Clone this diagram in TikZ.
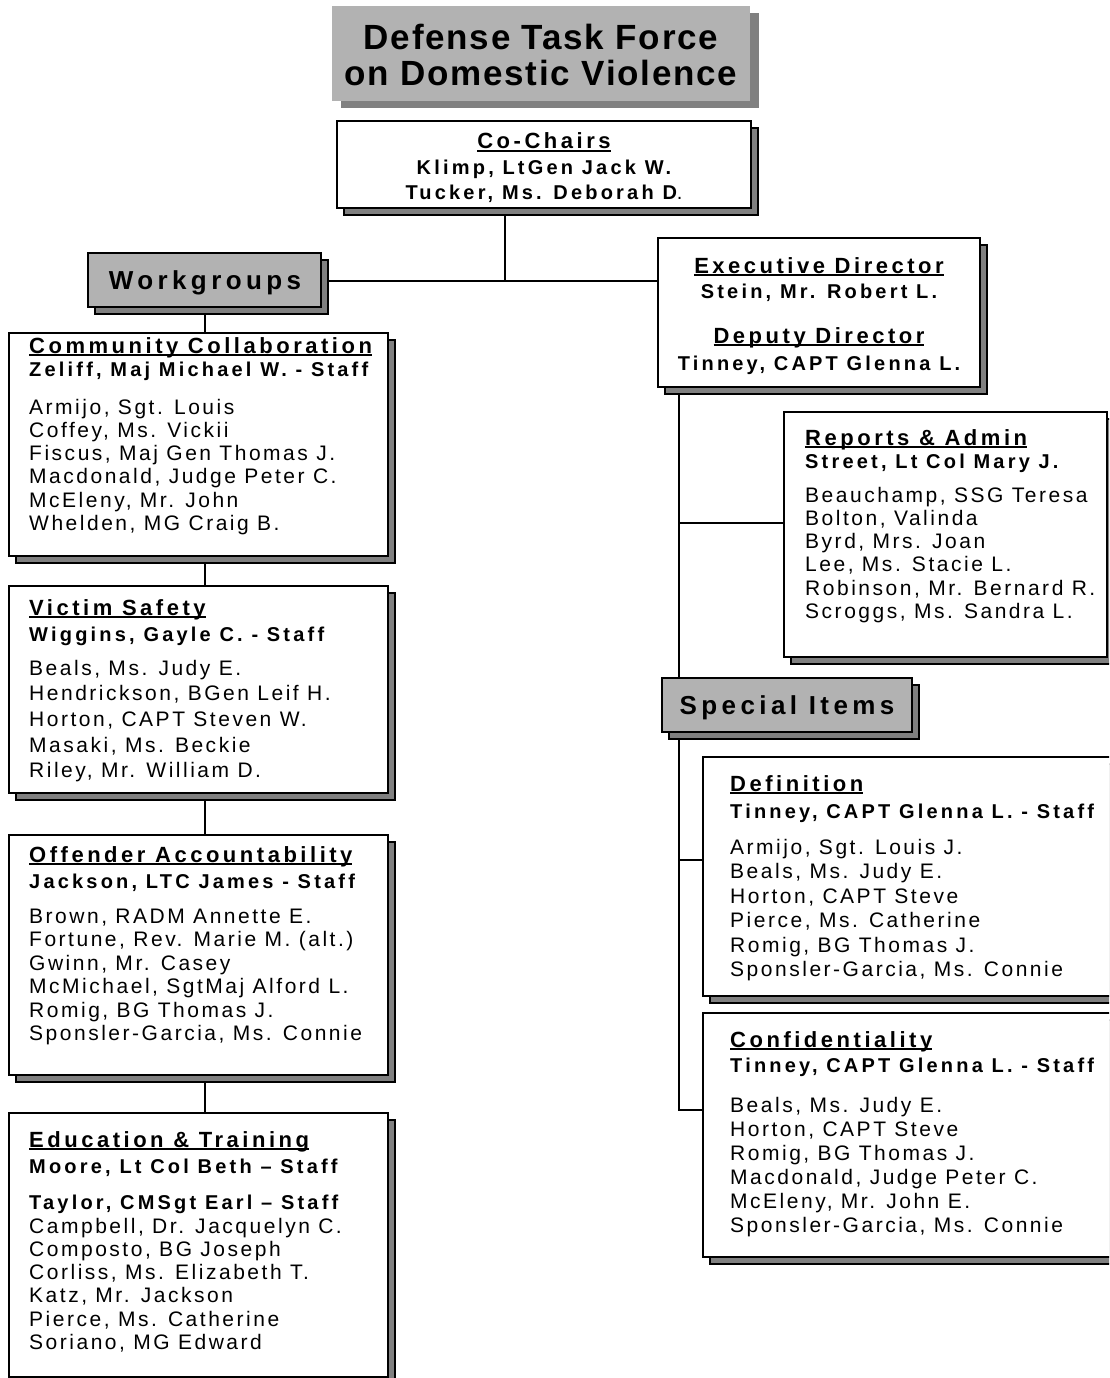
\documentclass[tikz,border=0pt]{standalone}
\usepackage{fontspec}
\setmainfont{Liberation Sans}
\newfontfamily\fbody[LetterSpace=12]{Liberation Sans}
\newfontfamily\fstaff[LetterSpace=16]{Liberation Sans}
\newfontfamily\fhead[LetterSpace=16]{Liberation Sans}
\newfontfamily\flab[LetterSpace=17]{Liberation Sans}
\newfontfamily\ftitle[LetterSpace=5]{Liberation Sans}
\usetikzlibrary{shadows}
\pgfdeclarelayer{bgfill}
\pgfdeclarelayer{background}
\pgfsetlayers{bgfill,background,main}
\newcommand\ulin[1]{\setbox0\hbox{#1}\rlap{\rule[-3pt]{\wd0}{1.6pt}}\box0}
\tikzset{
 conn/.style={line width=2pt},
 wbox/.style={draw=black, line width=2pt, fill=white, inner sep=0pt, outer sep=0pt, anchor=north west,
   drop shadow={shadow xshift=7pt, shadow yshift=-7pt, fill=black!50, draw=black, line width=2pt, opacity=1}},
 gbox/.style={wbox, fill=black!30},
 tbox/.style={fill=black!30, inner sep=0pt, outer sep=0pt, anchor=north west,
   drop shadow={shadow xshift=9pt, shadow yshift=-7pt, fill=black!50, opacity=1}},
 bodyt/.style={font=\fbody\fontsize{21}{24}\selectfont, inner sep=0pt, anchor=base west},
 stafft/.style={font=\fstaff\bfseries\fontsize{20}{24}\selectfont, inner sep=0pt, anchor=base west},
 headt/.style={font=\fhead\bfseries\fontsize{22}{26}\selectfont, inner sep=0pt, anchor=base west},
 titlet/.style={font=\ftitle\bfseries\fontsize{35}{36}\selectfont, inner sep=0pt, anchor=base},
 labt/.style={font=\flab\bfseries\fontsize{26}{30}\selectfont, inner sep=0pt, anchor=base},
}
\newcommand\bx[6]{\node[#6, minimum width={#4pt-#2pt}, minimum height={#5pt-#3pt}] (#1) at (#2,#3) {};}
\newcommand\lst[5]{\foreach \t [count=\i from 0] in {#5} {\node[bodyt] (#1\i) at (#2,{#3+\i*#4}) {\t};}}
\begin{document}
\begin{tikzpicture}[x=1pt,y=-1pt]
\useasboundingbox (0,0) rectangle (1109,1378);
\clip (0,0) rectangle (1109,1378);
\begin{pgfonlayer}{bgfill}
\fill[white] (0,0) rectangle (1109,1378);
\end{pgfonlayer}

% title
\bx{ttl}{332}{6}{750}{101}{tbox}
\node[titlet] (t1) at (541,50) {Defense Task Force};
\node[titlet] (t2) at (541,86) {on Domestic Violence};

% co-chairs
\bx{cc}{337}{121}{751}{208}{wbox}
\node[headt, anchor=base] (cch) at (544,149) {\ulin{Co-Chairs}};
\node[stafft, anchor=base] (cc1) at (544,174) {Klimp, LtGen Jack W.};
\node[stafft, anchor=base] (cc2) at (544,199) {Tucker, Ms. Deborah D{\mdseries .}};

% workgroups
\bx{wg}{88}{253}{321}{307}{gbox}
\node[labt] (wgt) at (205,289) {Workgroups};

% executive
\bx{ex}{658}{238}{980}{387}{wbox}
\node[headt, anchor=base] (ex1) at (819,273) {\ulin{Executive Director}};
\node[stafft, anchor=base] (ex2) at (819,298) {Stein, Mr. Robert L.};
\node[headt, anchor=base] (ex3) at (819,343) {\ulin{Deputy Director}};
\node[stafft, anchor=base] (ex4) at (819,370) {Tinney, CAPT Glenna L.};

% community
\bx{cm}{9}{333}{388}{556}{wbox}
\node[headt] (cmh) at (29,353) {\ulin{Community Collaboration}};
\node[stafft] (cms) at (29,376) {Zeliff, Maj Michael W. - Staff};
\lst{cm}{29}{414}{23.3}{{Armijo, Sgt. Louis},{Coffey, Ms. Vickii},{Fiscus, Maj Gen Thomas J.},{Macdonald, Judge Peter C.},{McEleny, Mr. John},{Whelden, MG Craig B.}}

% victim
\bx{vs}{9}{586}{388}{793}{wbox}
\node[headt] (vsh) at (29,615) {\ulin{Victim Safety}};
\node[stafft] (vss) at (29,641) {Wiggins, Gayle C. - Staff};
\lst{vs}{29}{675}{25.7}{{Beals, Ms. Judy E.},{Hendrickson, BGen Leif H.},{Horton, CAPT Steven W.},{Masaki, Ms. Beckie},{Riley, Mr. William D.}}

% offender
\bx{oa}{9}{835}{388}{1075}{wbox}
\node[headt] (oah) at (29,862) {\ulin{Offender Accountability}};
\node[stafft] (oas) at (29,888) {Jackson, LTC James - Staff};
\lst{oa}{29}{923}{23.5}{{Brown, RADM Annette E.},{Fortune, Rev. Marie M. (alt.)},{Gwinn, Mr. Casey},{McMichael, SgtMaj Alford L.},{Romig, BG Thomas J.},{Sponsler-Garcia, Ms. Connie}}

% education
\bx{et}{9}{1113}{388}{1377}{wbox}
\node[headt] (eth) at (29,1147) {\ulin{Education \& Training}};
\node[stafft] (ets) at (29,1173) {Moore, Lt Col Beth – Staff};
\node[stafft] (ett) at (29,1209) {Taylor, CMSgt Earl – Staff};
\lst{et}{29}{1233}{23.3}{{Campbell, Dr. Jacquelyn C.},{Composto, BG Joseph},{Corliss, Ms. Elizabeth T.},{Katz, Mr. Jackson},{Pierce, Ms. Catherine},{Soriano, MG Edward}}

% reports
\bx{ra}{784}{412}{1107}{657}{wbox}
\node[headt] (rah) at (805,445) {\ulin{Reports \& Admin}};
\node[stafft] (ras) at (805,468) {Street, Lt Col Mary J.};
\lst{ra}{805}{502}{23.3}{{Beauchamp, SSG Teresa},{Bolton, Valinda},{Byrd, Mrs. Joan},{Lee, Ms. Stacie L.},{Robinson, Mr. Bernard R.},{Scroggs, Ms. Sandra L.}}

% special items
\bx{si}{662}{678}{912}{732}{gbox}
\node[labt] (sit) at (787,714) {Special Items};

% definition
\bx{df}{703}{757}{1140}{996}{wbox}
\node[headt] (dfh) at (730,791) {\ulin{Definition}};
\node[stafft] (dfs) at (730,818) {Tinney, CAPT Glenna L. - Staff};
\lst{df}{730}{854}{24.5}{{Armijo, Sgt. Louis J.},{Beals, Ms. Judy E.},{Horton, CAPT Steve},{Pierce, Ms. Catherine},{Romig, BG Thomas J.},{Sponsler-Garcia, Ms. Connie}}

% confidentiality
\bx{cf}{703}{1013}{1140}{1257}{wbox}
\node[headt] (cfh) at (730,1047) {\ulin{Confidentiality}};
\node[stafft] (cfs) at (730,1072) {Tinney, CAPT Glenna L. - Staff};
\lst{cf}{730}{1112}{24}{{Beals, Ms. Judy E.},{Horton, CAPT Steve},{Romig, BG Thomas J.},{Macdonald, Judge Peter C.},{McEleny, Mr. John E.},{Sponsler-Garcia, Ms. Connie}}

% connectors
\begin{pgfonlayer}{background}
\coordinate (j) at (505,281);
\draw[conn] (cc.south -| j) -- (j);
\draw[conn] (wg.east |- j) -- (ex.west |- j);
\draw[conn] (wg.south) -- (cm.north -| wg.south);
\draw[conn] (cm.south -| wg.south) -- (vs.north -| wg.south);
\draw[conn] (vs.south -| wg.south) -- (oa.north -| wg.south);
\draw[conn] (oa.south -| wg.south) -- (et.north -| wg.south);
\coordinate (b1) at (679,523);
\coordinate (b2) at (679,860);
\coordinate (b3) at (679,1110);
\draw[conn] (ex.south -| b1) -- (b3) -- (cf.west |- b3);
\draw[conn] (b1) -- (ra.west |- b1);
\draw[conn] (b2) -- (df.west |- b2);
\end{pgfonlayer}
\end{tikzpicture}
\end{document}
